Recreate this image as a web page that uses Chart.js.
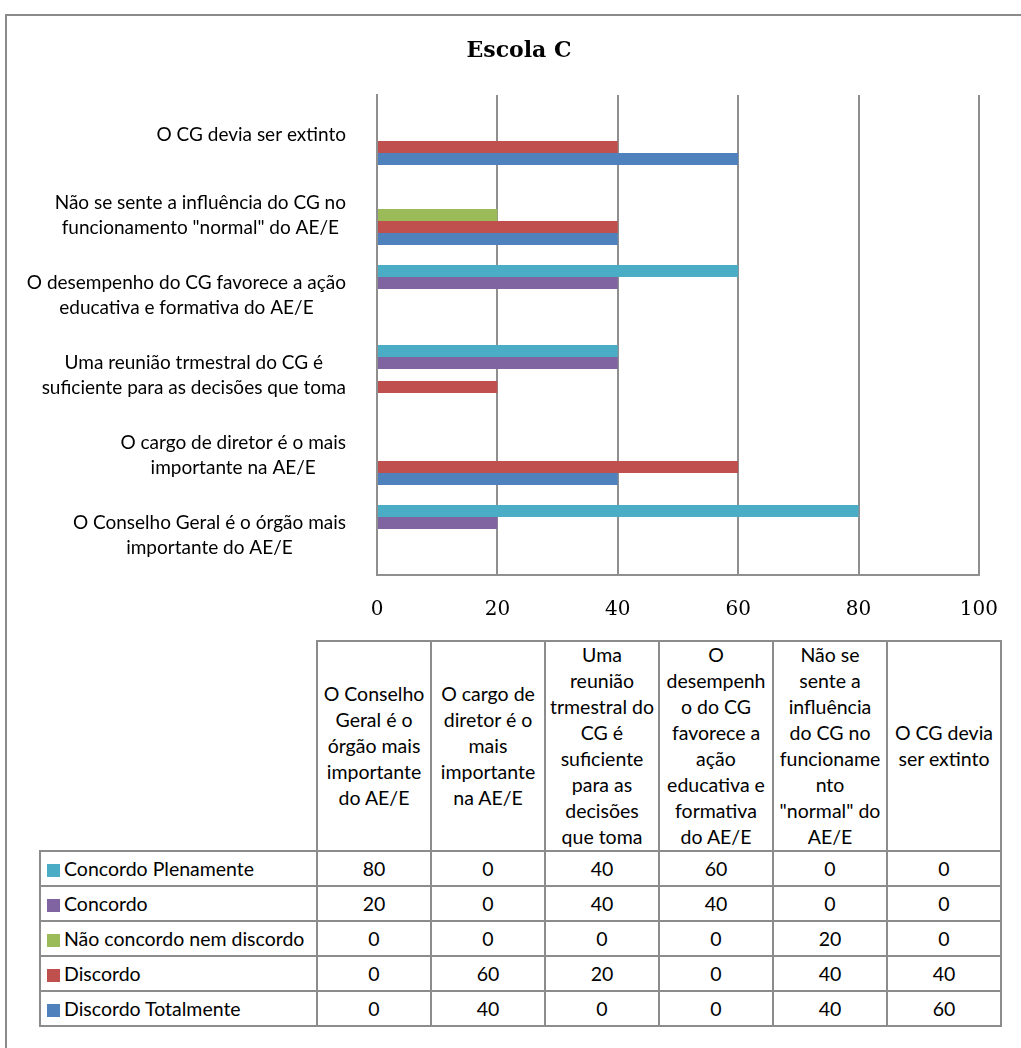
<!DOCTYPE html>
<html>
<head>
<meta charset="utf-8">
<script src="https://cdn.jsdelivr.net/npm/chart.js@4.4.1/dist/chart.umd.min.js"></script>
<style>
  html, body { margin: 0; padding: 0; background: #fff; overflow: hidden; }
  body { width: 1021px; height: 1048px; position: relative; }
  #frame { position: absolute; left: 5px; top: 14px; width: 1100px; height: 1100px; border: 2px solid #8a8a8a; }
  #chartBox { position: absolute; left: 0; top: 0; width: 1021px; height: 640px; }
  #dataTable { position: absolute; left: 39px; top: 640px; border-collapse: collapse; table-layout: fixed;
    font-family: Lato, sans-serif; font-size: 19.5px; color: #000; }
  #dataTable td { border: 2px solid #8c8c8c; padding: 0; text-align: center; vertical-align: middle; white-space: nowrap; }
  #dataTable tr.head td { height: 207px; line-height: 26px; }
  #dataTable tr.row td { height: 33px; }
  #dataTable td.corner { border-top: none; border-left: none; }
  #dataTable td.label { text-align: left; padding-left: 6px; }
  .key { display: inline-block; width: 13px; height: 13px; margin-right: 4px; vertical-align: -1px; }
</style>
</head>
<body>
<div id="frame"></div>
<div id="chartBox"><canvas id="chart"></canvas></div>
<table id="dataTable"></table>
<script>
// --- Data ---
const chartTitle = 'Escola C';

const categories = [
    'O Conselho Geral é o órgão mais importante do AE/E',
    'O cargo de diretor é o mais importante na AE/E',
    'Uma reunião trmestral do CG é suficiente para as decisões que toma',
    'O desempenho do CG favorece a ação educativa e formativa do AE/E',
    'Não se sente a influência do CG no funcionamento "normal" do AE/E',
    'O CG devia ser extinto'
];

// axis labels, as they wrap beside the bars
const yTickLabels = [
    ['O Conselho Geral é o órgão mais', 'importante do AE/E'],
    ['O cargo de diretor é o mais', 'importante na AE/E'],
    ['Uma reunião trmestral do CG é', 'suficiente para as decisões que toma'],
    ['O desempenho do CG favorece a ação', 'educativa e formativa do AE/E'],
    ['Não se sente a influência do CG no', 'funcionamento "normal" do AE/E'],
    ['O CG devia ser extinto']
];

// same labels, as they wrap in the table header
const tableHeaderLines = [
    ['O Conselho', 'Geral é o', 'órgão mais', 'importante', 'do AE/E'],
    ['O cargo de', 'diretor é o', 'mais', 'importante', 'na AE/E'],
    ['Uma', 'reunião', 'trmestral do', 'CG é', 'suficiente', 'para as', 'decisões', 'que toma'],
    ['O', 'desempenh', 'o do CG', 'favorece a', 'ação', 'educativa e', 'formativa', 'do AE/E'],
    ['Não se', 'sente a', 'influência', 'do CG no', 'funcioname', 'nto', '"normal" do', 'AE/E'],
    ['O CG devia', 'ser extinto']
];

const seriesNames = ['Concordo Plenamente', 'Concordo', 'Não concordo nem discordo', 'Discordo', 'Discordo Totalmente'];
const concordoPlenamente = [80, 0, 40, 60, 0, 0];
const concordo = [20, 0, 40, 40, 0, 0];
const naoConcordoNemDiscordo = [0, 0, 0, 0, 20, 0];
const discordo = [0, 60, 20, 0, 40, 40];
const discordoTotalmente = [0, 40, 0, 0, 40, 60];
const seriesValues = [concordoPlenamente, concordo, naoConcordoNemDiscordo, discordo, discordoTotalmente];
const seriesColors = ['#4BACC6', '#8064A2', '#9BBB59', '#C0504D', '#4F81BD'];

const xTicks = [0, 20, 40, 60, 80, 100];

// --- Style ---
const sansFont = 'Lato, sans-serif';
const gridColor = '#8f8f8f';
const labelRight = 346;
const labelLineHeight = 25;
const titleX = 519;
const titleBaseline = 57;

// title (centred on the whole frame, not the chart box) and the y labels:
// block right-aligned, lines centred inside it, as Excel does
const textPlugin = {
    id: 'excelText',
    afterDraw(chart) {
        const ctx = chart.ctx;
        const yScale = chart.scales.y;
        ctx.save();
        ctx.fillStyle = '#000';
        ctx.textAlign = 'center';

        ctx.font = 'bold 22px "DejaVu Serif"';
        ctx.textBaseline = 'alphabetic';
        ctx.fillText(chartTitle, titleX, titleBaseline);

        ctx.font = '19px ' + sansFont;
        ctx.textBaseline = 'middle';
        yTickLabels.forEach((lines, i) => {
            const y = yScale.getPixelForValue(i);
            const w = Math.max(...lines.map(l => ctx.measureText(l).width));
            const cx = labelRight - w / 2;
            lines.forEach((line, k) => {
                ctx.fillText(line, cx, y + (k - (lines.length - 1) / 2) * labelLineHeight);
            });
        });
        ctx.restore();
    }
};

const chart = new Chart(document.getElementById('chart'), {
    type: 'bar',
    data: {
        labels: categories,
        datasets: seriesNames.map((name, i) => ({
            label: name,
            data: seriesValues[i],
            backgroundColor: seriesColors[i],
            borderWidth: 0
        }))
    },
    options: {
        indexAxis: 'y',
        responsive: true,
        maintainAspectRatio: false,
        animation: false,
        categoryPercentage: 0.75,
        barPercentage: 1,
        layout: { padding: { left: 0, right: 42, top: 95, bottom: 0 } },
        scales: {
            x: {
                min: 0,
                max: 100,
                afterBuildTicks: scale => { scale.ticks = xTicks.map(v => ({ value: v })); },
                afterFit: scale => { scale.height = 65; },
                grid: { color: gridColor, lineWidth: 2, drawTicks: false },
                border: { display: true, color: gridColor, width: 2 },
                ticks: {
                    padding: 23,
                    color: '#000',
                    font: { family: 'DejaVu Serif', size: 20 }
                }
            },
            y: {
                reverse: true,
                afterFit: scale => { scale.width = 377; },
                grid: { display: false, drawTicks: false },
                border: { display: true, color: gridColor, width: 2 },
                ticks: { display: false }
            }
        },
        plugins: {
            legend: { display: false },
            tooltip: { enabled: false },
            title: { display: false }
        }
    },
    plugins: [textPlugin]
});

// --- Data table under the chart ---
const table = document.getElementById('dataTable');
const colgroup = document.createElement('colgroup');
[277, 114, 114, 114, 114, 114, 114].forEach(w => {
    const col = document.createElement('col');
    col.style.width = w + 'px';
    colgroup.appendChild(col);
});
table.appendChild(colgroup);

const headRow = document.createElement('tr');
headRow.className = 'head';
const corner = document.createElement('td');
corner.className = 'corner';
headRow.appendChild(corner);
tableHeaderLines.forEach(lines => {
    const td = document.createElement('td');
    lines.forEach((line, k) => {
        if (k > 0) td.appendChild(document.createElement('br'));
        td.appendChild(document.createTextNode(line));
    });
    headRow.appendChild(td);
});
table.appendChild(headRow);

seriesNames.forEach((name, i) => {
    const tr = document.createElement('tr');
    tr.className = 'row';
    const label = document.createElement('td');
    label.className = 'label';
    const key = document.createElement('span');
    key.className = 'key';
    key.style.background = seriesColors[i];
    label.appendChild(key);
    label.appendChild(document.createTextNode(name));
    tr.appendChild(label);
    seriesValues[i].forEach(v => {
        const td = document.createElement('td');
        td.textContent = v;
        tr.appendChild(td);
    });
    table.appendChild(tr);
});
</script>
</body>
</html>
